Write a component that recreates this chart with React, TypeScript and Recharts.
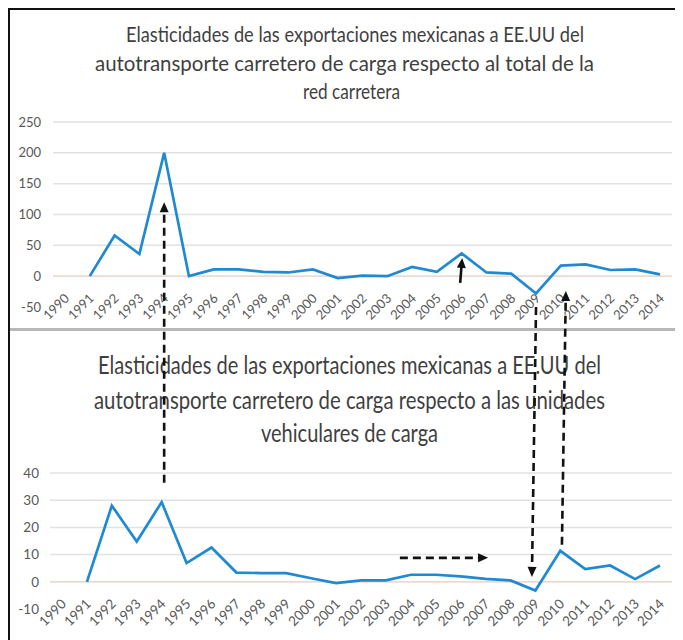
import React from 'react';
import { LineChart, Line, XAxis, YAxis, CartesianGrid, ReferenceLine } from 'recharts';

const years = ['1990','1991','1992','1993','1994','1995','1996','1997','1998','1999','2000','2001','2002','2003','2004','2005','2006','2007','2008','2009','2010','2011','2012','2013','2014'];
const redCarretera: (number | null)[] = [null, 0, 66, 36, 200, 0, 11, 11, 7, 6, 11, -3, 1, 0, 15, 7, 37, 6, 4, -28, 17, 19, 10, 11, 3];
const unidadesVehiculares: (number | null)[] = [null, 0, 28, 14.8, 29.3, 6.9, 12.6, 3.4, 3.2, 3.2, 1.3, -0.5, 0.5, 0.5, 2.6, 2.6, 2.0, 1.1, 0.5, -3.2, 11.4, 4.7, 6.0, 1.0, 6.0];
const topTicks = [-50, 0, 50, 100, 150, 200, 250];
const bottomTicks = [-10, 0, 10, 20, 30, 40];
const topTitle = [
  'Elasticidades de las exportaciones mexicanas a EE.UU del',
  'autotransporte carretero de carga respecto al total de la',
  'red carretera',
];
const bottomTitle = [
  'Elasticidades de las exportaciones mexicanas a EE.UU del',
  'autotransporte carretero de carga respecto a las unidades',
  'vehiculares de carga',
];

const topData = years.map((y, i) => ({ year: y, v: redCarretera[i] }));
const bottomData = years.map((y, i) => ({ year: y, v: unidadesVehiculares[i] }));

const W = 675;
const H = 632;
const BLUE = '#1f8ad2';
const FONT = 'Lato, "Liberation Sans", sans-serif';

// layout of the two charts (container coordinates)
const TOP = { offY: 92, h: 240, mTop: 22, xH: 33, yW: 45, mRight: 11, pad: 12, min: -50, max: 250, font: 13, tickGap: 12 };
const BOT = { offY: 432, h: 200, mTop: 33, xH: 30, yW: 42, mRight: 11, pad: 12, min: -10, max: 40, font: 13.5, tickGap: 11, mBottom: 1 };

const plotH = (c: any) => c.h - c.mTop - c.xH - (c.mBottom || 0);
const catX = (c: any, i: number) => {
  const first = c.yW + c.pad;
  const last = W - c.mRight - c.pad;
  return first + (i * (last - first)) / (years.length - 1);
};
const valY = (c: any, v: number) => c.offY + c.mTop + ((c.max - v) / (c.max - c.min)) * plotH(c);

const makeTick = (c: any) => (props: any) => {
  const { x, y, payload } = props;
  const zeroShift = (plotH(c) * (0 - c.min)) / (c.max - c.min);
  const ax = x + 5;
  const ay = y - zeroShift + 23;
  return (
    <text x={ax} y={ay} transform={`rotate(-45, ${ax}, ${ay})`} textAnchor="end" fill="#595959" fontSize={c.font} fontFamily={FONT}>
      {payload.value}
    </text>
  );
};

function Chart({ c, data, ticks }: { c: any; data: any[]; ticks: number[] }) {
  return (
    <div style={{ position: 'absolute', left: 0, top: c.offY }}>
      <LineChart width={W} height={c.h} data={data} margin={{ top: c.mTop, right: c.mRight, left: 0, bottom: c.mBottom || 0 }}>
        <CartesianGrid vertical={false} stroke="#e2e2e2" strokeWidth={1.5} horizontalValues={ticks.filter((t) => t !== c.min)} />
        <ReferenceLine y={0} stroke="#eed8cf" strokeWidth={1.5} />
        <XAxis
          dataKey="year"
          interval={0}
          axisLine={false}
          tickLine={false}
          tickSize={0}
          tickMargin={0}
          height={c.xH}
          padding={{ left: c.pad, right: c.pad }}
          tick={makeTick(c)}
        />
        <YAxis
          type="number"
          domain={[c.min, c.max]}
          ticks={ticks}
          interval={0}
          width={c.yW}
          axisLine={false}
          tickLine={false}
          tickSize={0}
          tickMargin={c.tickGap}
          tick={{ fill: '#595959', fontSize: c.font, fontFamily: FONT }}
        />
        <Line type="linear" dataKey="v" stroke={BLUE} strokeWidth={2.7} dot={false} isAnimationActive={false} />
      </LineChart>
    </div>
  );
}

function Arrow({ x1, y1, x2, y2, dashed }: { x1: number; y1: number; x2: number; y2: number; dashed?: boolean }) {
  const dx = x2 - x1;
  const dy = y2 - y1;
  const len = Math.sqrt(dx * dx + dy * dy);
  const ux = dx / len;
  const uy = dy / len;
  const hl = 10;
  const hw = 4.5;
  const bx = x2 - ux * hl;
  const by = y2 - uy * hl;
  const pts = `${x2},${y2} ${bx - uy * hw},${by + ux * hw} ${bx + uy * hw},${by - ux * hw}`;
  return (
    <g>
      <line x1={x1} y1={y1} x2={bx + ux * 1} y2={by + uy * 1} stroke="#111" strokeWidth={2.6} strokeDasharray={dashed ? '8 5' : undefined} />
      <polygon points={pts} fill="#111" />
    </g>
  );
}

function TitleLine({ x, y, text, size, len, sy }: { x: number; y: number; text: string; size: number; len: number; sy: number }) {
  return (
    <g transform={`translate(${x}, ${y}) scale(1, ${sy})`}>
      <text x={0} y={0} fontSize={size} fill="#3f3f3f" fontFamily={FONT} textLength={len} lengthAdjust="spacingAndGlyphs">
        {text}
      </text>
    </g>
  );
}

function Overlay() {
  return (
    <svg width={W} height={H} style={{ position: 'absolute', left: 0, top: 0, pointerEvents: 'none' }}>
      <TitleLine x={118} y={34} text={topTitle[0]} size={17.5} len={458} sy={1.2} />
      <TitleLine x={87} y={63} text={topTitle[1]} size={17.5} len={499} sy={1.2} />
      <TitleLine x={295} y={91} text={topTitle[2]} size={17.5} len={97} sy={1.2} />
      <TitleLine x={90} y={366} text={bottomTitle[0]} size={19} len={503} sy={1.3} />
      <TitleLine x={86} y={401} text={bottomTitle[1]} size={19} len={511} sy={1.3} />
      <TitleLine x={253} y={434} text={bottomTitle[2]} size={19} len={177} sy={1.3} />
      <Arrow x1={catX(TOP, 4)} y1={valY(BOT, 36.4)} x2={catX(TOP, 4)} y2={valY(TOP, 120)} dashed />
      <Arrow x1={catX(TOP, 16) - 1.5} y1={valY(TOP, -11)} x2={catX(TOP, 16) + 0.5} y2={valY(TOP, 29.5)} />
      <Arrow x1={catX(TOP, 19)} y1={valY(TOP, -50)} x2={catX(BOT, 19) - 3.5} y2={valY(BOT, 1.8)} dashed />
      <Arrow x1={catX(BOT, 20) + 1.6} y1={valY(BOT, 13.6)} x2={catX(TOP, 20) + 5} y2={valY(TOP, -24)} dashed />
      <Arrow x1={catX(BOT, 13.56)} y1={valY(BOT, 8.8)} x2={catX(BOT, 17.1)} y2={valY(BOT, 8.8)} dashed />
    </svg>
  );
}

export default function App() {
  return (
    <div style={{ position: 'relative', width: W, height: H, background: '#fff', overflow: 'hidden' }}>
      <style>{`body{overflow:hidden;}`}</style>
      <Chart c={TOP} data={topData} ticks={topTicks} />
      <Chart c={BOT} data={bottomData} ticks={bottomTicks} />
      <div style={{ position: 'absolute', left: 0, top: 320, width: W, height: 3, background: '#b8b8b8' }} />
      <div style={{ position: 'absolute', left: 0, top: 0, width: 2, height: H, background: '#111' }} />
      <div style={{ position: 'absolute', left: 0, top: 0, width: W, height: 2, background: '#111' }} />
      <Overlay />
    </div>
  );
}
